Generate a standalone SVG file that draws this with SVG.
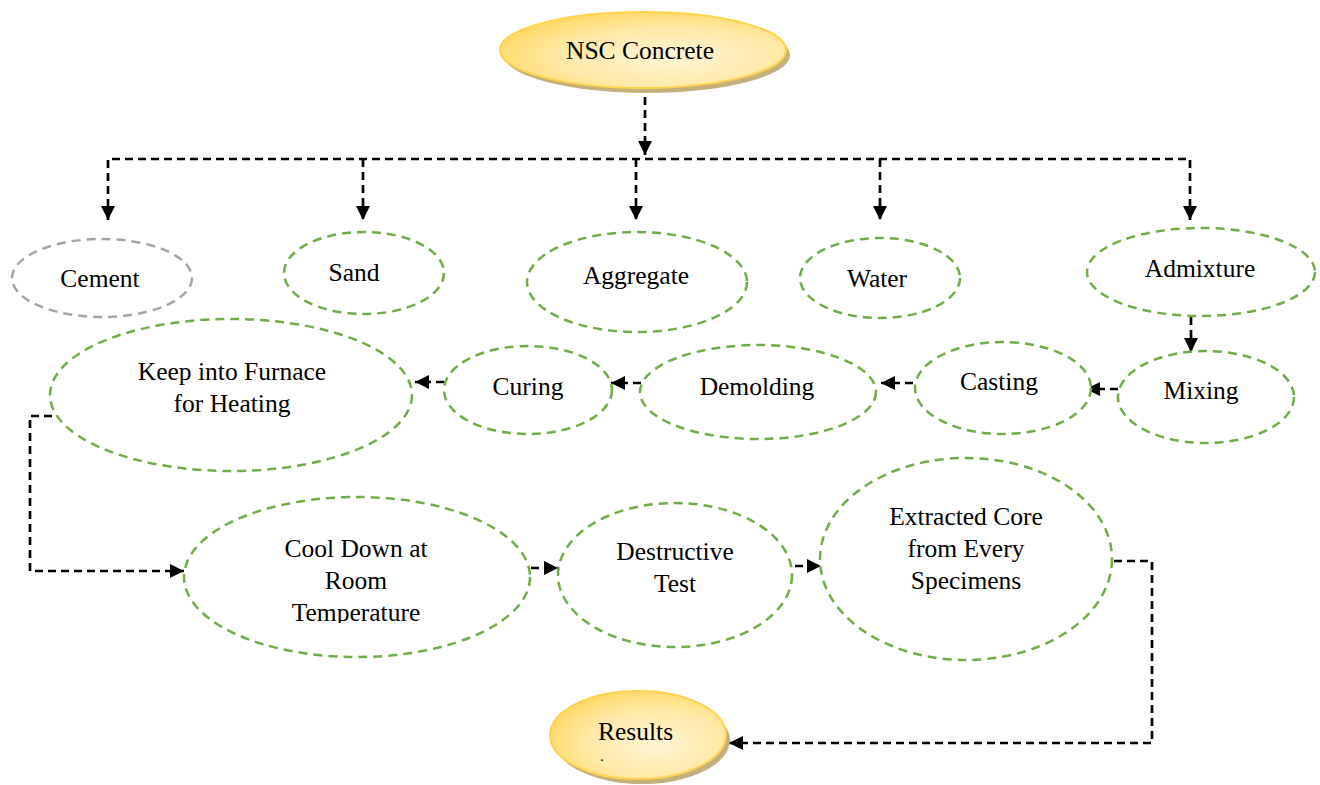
<svg xmlns="http://www.w3.org/2000/svg" width="1320" height="785" viewBox="0 0 1320 785">
<style>
text{font-family:"Liberation Serif","Times New Roman",serif;font-size:25.5px;fill:#000;text-anchor:middle}
.g{fill:#fff;stroke:#70ad47;stroke-width:2.5;stroke-dasharray:9 6}
.gr{fill:#fff;stroke:#a5a5a5;stroke-width:2.5;stroke-dasharray:9 6}
.y{fill:url(#yg);stroke:#ffd34d;stroke-width:2}
.sh{fill:#c4b07a}
.c{fill:none;stroke:#000;stroke-width:2.7;stroke-dasharray:8 5}
</style>
<defs>
<radialGradient id="yg" cx="0.6" cy="0.6" r="0.65">
<stop offset="0" stop-color="#fff5d6"/>
<stop offset="0.6" stop-color="#ffe9a6"/>
<stop offset="1" stop-color="#ffd864"/>
</radialGradient>
<marker id="ah" markerUnits="userSpaceOnUse" markerWidth="15" markerHeight="15" refX="14" refY="7" orient="auto-start-reverse">
<path d="M0,0 L14,7 L0,14 z" fill="#000"/>
</marker>
<clipPath id="cl1"><rect x="150" y="520" width="420" height="103"/></clipPath>
</defs>
<g id="connectors">
<path class="c" d="M645,97 V155" marker-end="url(#ah)"/>
<path class="c" d="M108,220 V159 H1190 V220" marker-start="url(#ah)" marker-end="url(#ah)"/>
<path class="c" d="M363,159 V220" marker-end="url(#ah)"/>
<path class="c" d="M636,159 V220" marker-end="url(#ah)"/>
<path class="c" d="M880,159 V220" marker-end="url(#ah)"/>
<path class="c" d="M1191,317 V352" marker-end="url(#ah)"/>
<path class="c" d="M1118,389 H1086" marker-end="url(#ah)"/>
<path class="c" d="M913,383 H881" marker-end="url(#ah)"/>
<path class="c" d="M641,383 H611" marker-end="url(#ah)"/>
<path class="c" d="M444,382 H415" marker-end="url(#ah)"/>
<path class="c" d="M52,416 H30 V571 H184" marker-end="url(#ah)"/>
<path class="c" d="M531,568 H558" marker-end="url(#ah)"/>
<path class="c" d="M795,566 H821" marker-end="url(#ah)"/>
<path class="c" d="M1114,561 H1152 V743 H729" marker-end="url(#ah)"/>
</g>
<g id="nsc">
<ellipse class="sh" cx="647" cy="55" rx="143" ry="38"/>
<ellipse class="y" cx="643" cy="50" rx="143" ry="38"/>
<text x="640" y="59">NSC Concrete</text>
</g>
<g id="cement">
<ellipse class="gr" cx="102" cy="278" rx="90" ry="39"/>
<text x="100" y="287">Cement</text>
</g>
<g id="sand">
<ellipse class="g" cx="364" cy="273" rx="80" ry="41"/>
<text x="354" y="281">Sand</text>
</g>
<g id="aggregate">
<ellipse class="g" cx="637" cy="282" rx="110" ry="50"/>
<text x="636" y="284">Aggregate</text>
</g>
<g id="water">
<ellipse class="g" cx="880" cy="278" rx="80" ry="40"/>
<text x="877" y="287">Water</text>
</g>
<g id="admixture">
<ellipse class="g" cx="1201" cy="272" rx="114" ry="44"/>
<text x="1200" y="277">Admixture</text>
</g>
<g id="furnace">
<ellipse class="g" cx="231" cy="395" rx="181" ry="76"/>
<text x="232" y="380">Keep into Furnace</text>
<text x="232" y="412">for Heating</text>
</g>
<g id="curing">
<ellipse class="g" cx="528" cy="390" rx="84" ry="44"/>
<text x="528" y="395">Curing</text>
</g>
<g id="demolding">
<ellipse class="g" cx="758" cy="392" rx="118" ry="47"/>
<text x="757" y="395">Demolding</text>
</g>
<g id="casting">
<ellipse class="g" cx="1003" cy="388" rx="88" ry="46"/>
<text x="999" y="390">Casting</text>
</g>
<g id="mixing">
<ellipse class="g" cx="1206" cy="397" rx="88" ry="46"/>
<text x="1201" y="399">Mixing</text>
</g>
<g id="cooldown">
<ellipse class="g" cx="357" cy="577" rx="173" ry="80"/>
<g clip-path="url(#cl1)">
<text x="356" y="557">Cool Down at</text>
<text x="356" y="589">Room</text>
<text x="356" y="621">Temperature</text>
</g>
</g>
<g id="destructive">
<ellipse class="g" cx="675" cy="575" rx="117" ry="72"/>
<text x="675" y="560">Destructive</text>
<text x="675" y="592">Test</text>
</g>
<g id="extracted">
<ellipse class="g" cx="966" cy="559" rx="146" ry="101"/>
<text x="966" y="525">Extracted Core</text>
<text x="966" y="557">from Every</text>
<text x="966" y="589">Specimens</text>
</g>
<g id="results">
<ellipse class="sh" cx="642" cy="740" rx="88" ry="44"/>
<ellipse class="y" cx="638" cy="735" rx="88" ry="44"/>
<text x="598" y="740" style="text-anchor:start">Results</text>
<text x="600" y="761" style="text-anchor:start;font-size:15px">.</text>
</g>
</svg>
